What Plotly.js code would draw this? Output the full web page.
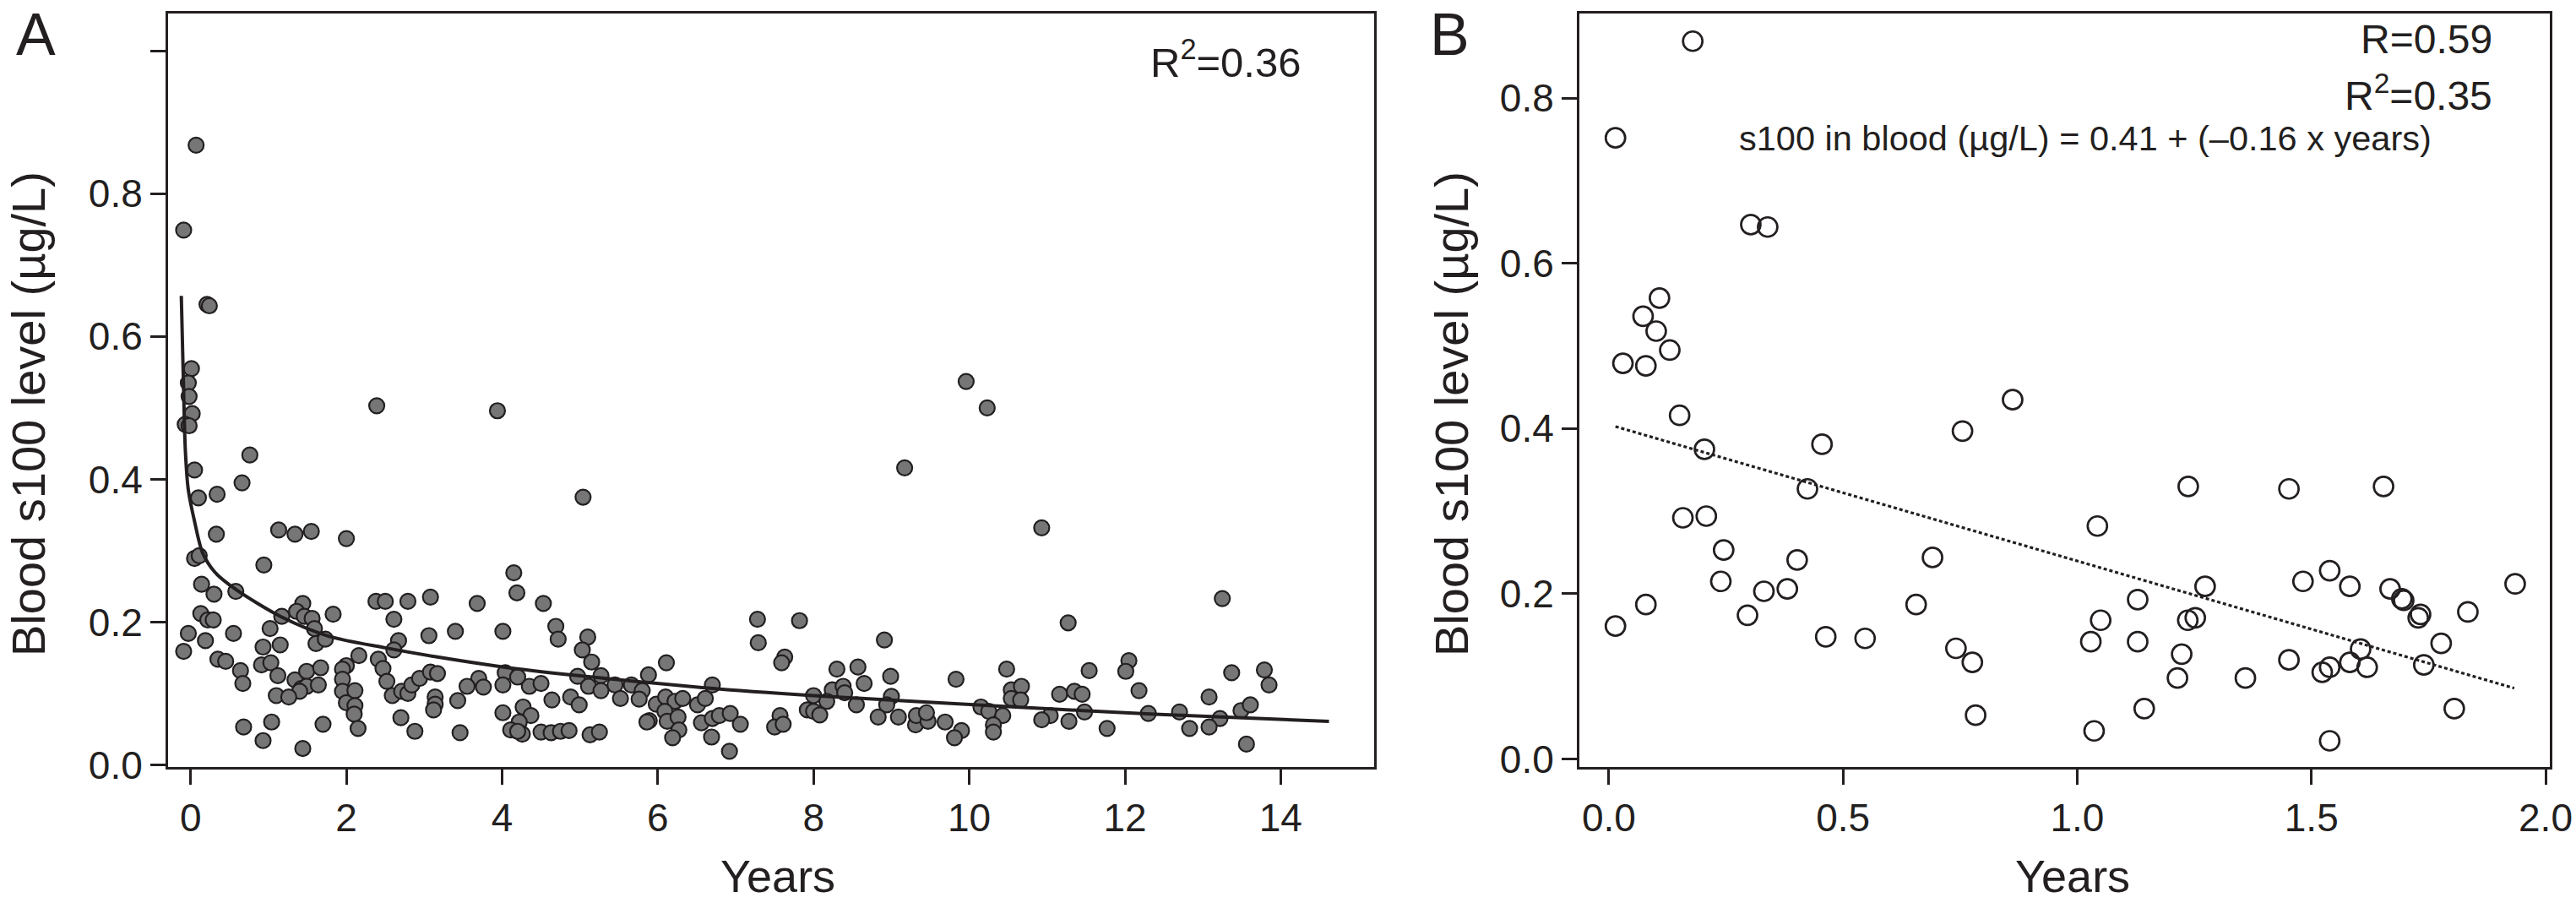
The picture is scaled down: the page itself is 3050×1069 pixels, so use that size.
<!DOCTYPE html>
<html>
<head>
<meta charset="utf-8">
<script src="https://cdn.plot.ly/plotly-3.0.1.min.js"></script>
<style>
  html, body { margin: 0; padding: 0; background: #fff; }
  #chart { width: 3050px; height: 1069px; }
</style>
</head>
<body>
<div id="chart"></div>
<script>
// panel A: all patients, s100 vs years since injury
const aYears = [
  0.07, -0.09, 0.21, 0.24, 0.01, -0.03, -0.02, 0.02, -0.07, -0.02, 2.39, 3.94, 0.05, 0.66, 0.76, 9.17, 9.96, 10.23, 5.04,
  0.10, 0.34, 0.33, 1.13, 1.34, 1.55, 2.00, 0.05, 0.11, 0.94, 0.14, 0.30, 0.58, 0.13, 0.22, 0.29, -0.03, 0.19, 0.55, -0.09,
  0.35, 0.45, 0.64, 0.67, 1.02, 1.17, 1.44, 1.36, 1.46, 1.56, 1.59, 1.83, 1.61, 1.73, 0.93, 1.15, 0.91, 1.03, 1.12, 1.34,
  1.49, 1.67, 1.42, 1.49, 1.64, 1.40, 1.10, 1.26, 0.68, 1.04, 0.93, 1.44, 1.70, 2.16, 2.00, 1.95, 1.95, 1.95, 2.00, 2.11,
  2.11, 2.10, 2.15, 2.38, 2.50, 2.79, 3.08, 2.61, 2.67, 2.61, 3.06, 2.41, 2.47, 2.52, 2.59, 2.71, 2.79, 2.84, 2.94, 3.08,
  3.17, 3.14, 3.14, 3.12, 2.70, 2.88,
  4.15, 4.19, 3.68, 4.53, 3.40, 4.01, 4.69, 4.72, 5.10, 5.03, 5.15, 6.11, 3.70, 3.76, 3.55, 4.04, 4.20, 4.01, 4.35, 4.50,
  3.43, 4.64, 4.88, 4.99, 4.97, 5.11, 5.27, 5.27, 5.45, 5.52, 5.66, 5.80, 5.76, 5.88, 4.01, 4.27, 4.37, 4.22, 4.11, 4.26,
  4.20, 3.46, 4.50, 4.63, 4.75, 4.86, 5.13, 5.25, 5.98, 6.10, 6.22, 6.32, 6.09, 6.12, 6.26, 6.27, 6.19, 5.89, 5.86, 6.51,
  6.61, 6.56,
  7.28, 7.82, 7.29, 8.91, 7.63, 7.59, 8.30, 8.57, 8.99, 9.83, 10.48, 6.70, 8.65, 8.24, 8.38, 8.40, 8.00, 8.17, 9.00, 8.55,
  7.92, 8.00, 8.08, 8.94, 8.83, 9.09, 9.31, 9.32, 9.47, 9.45, 9.69, 9.90, 9.81, 10.15, 10.25, 10.43, 10.31, 10.31, 10.54,
  10.54, 6.70, 6.79, 6.93, 7.06, 6.69, 6.92, 7.57, 7.50, 7.61,
  10.93, 13.25, 11.27, 12.05, 12.01, 11.54, 13.37, 13.79, 13.85, 12.18, 10.67, 10.66, 11.16, 11.35, 11.45, 11.48, 11.04,
  10.93, 11.28, 11.77, 12.30, 12.70, 12.83, 13.08, 13.22, 13.08, 13.49, 13.61, 13.56
];
const aLevels = [
  0.868, 0.749, 0.645, 0.643, 0.555, 0.535, 0.516, 0.492, 0.477, 0.475, 0.503, 0.496, 0.413, 0.395, 0.434, 0.416, 0.537, 0.500, 0.375,
  0.374, 0.379, 0.323, 0.329, 0.323, 0.327, 0.317, 0.289, 0.293, 0.280, 0.253, 0.239, 0.243, 0.212, 0.203, 0.203, 0.184, 0.174, 0.184, 0.159,
  0.148, 0.145, 0.132, 0.114, 0.191, 0.208, 0.226, 0.215, 0.208, 0.205, 0.191, 0.211, 0.170, 0.176, 0.165, 0.168, 0.140, 0.143, 0.125, 0.119,
  0.131, 0.136, 0.107, 0.110, 0.112, 0.103, 0.097, 0.095, 0.053, 0.060, 0.034, 0.023, 0.057, 0.153, 0.139, 0.134, 0.120, 0.103, 0.087, 0.104,
  0.083, 0.071, 0.051, 0.229, 0.229, 0.229, 0.235, 0.204, 0.174, 0.161, 0.181, 0.148, 0.135, 0.117, 0.097, 0.103, 0.100, 0.112, 0.121, 0.130,
  0.128, 0.095, 0.085, 0.077, 0.066, 0.047,
  0.269, 0.241, 0.226, 0.226, 0.187, 0.187, 0.194, 0.176, 0.179, 0.161, 0.144, 0.143, 0.121, 0.109, 0.110, 0.129, 0.123, 0.112, 0.110, 0.114,
  0.090, 0.091, 0.095, 0.084, 0.124, 0.110, 0.125, 0.104, 0.112, 0.093, 0.112, 0.104, 0.092, 0.126, 0.073, 0.081, 0.069, 0.060, 0.049, 0.043,
  0.047, 0.045, 0.046, 0.045, 0.047, 0.048, 0.042, 0.046, 0.085, 0.095, 0.089, 0.093, 0.075, 0.061, 0.067, 0.049, 0.038, 0.062, 0.060, 0.084,
  0.093, 0.059,
  0.204, 0.202, 0.171, 0.175, 0.151, 0.143, 0.134, 0.137, 0.124, 0.120, 0.134, 0.112, 0.114, 0.105, 0.110, 0.101, 0.097, 0.089, 0.096, 0.084,
  0.077, 0.075, 0.070, 0.084, 0.067, 0.067, 0.056, 0.069, 0.061, 0.073, 0.060, 0.048, 0.038, 0.081, 0.075, 0.069, 0.056, 0.046, 0.105,
  0.093, 0.065, 0.069, 0.072, 0.057, 0.039, 0.019, 0.069, 0.053, 0.057,
  0.332, 0.233, 0.199, 0.146, 0.131, 0.132, 0.129, 0.133, 0.112, 0.104, 0.110, 0.091, 0.099, 0.103, 0.099, 0.074, 0.069,
  0.063, 0.061, 0.051, 0.072, 0.074, 0.051, 0.095, 0.065, 0.053, 0.076, 0.084, 0.029
];

// fitted curve in panel A
const aCurveYears = [-0.12, -0.095, -0.068, -0.03, 0.05, 0.15, 0.31, 0.59, 1.17, 1.78, 2.5, 3.17, 4.02, 4.89, 6.6, 8.0, 10.6, 12.38, 14.62];
const aCurveLevels = [0.657, 0.545, 0.44, 0.385, 0.341, 0.298, 0.27, 0.245, 0.207, 0.18, 0.164, 0.151, 0.137, 0.126, 0.108, 0.097, 0.081, 0.071, 0.061];

// panel B: first two years
const bYears = [
  0.179, 0.014, 0.303, 0.339, 0.108, 0.073, 0.101, 0.130, 0.030, 0.079, 0.151, 0.862, 0.755, 0.455, 0.204, 0.424, 0.158,
  0.208, 0.245, 0.402, 0.691, 0.239, 0.331, 0.381, 0.079, 0.656, 0.014, 0.296, 0.463, 0.547, 0.741, 0.776, 0.783,
  1.237, 1.452, 1.654, 1.043, 1.539, 1.482, 1.582, 1.273, 1.935, 1.668, 1.693, 1.697, 1.129, 1.733, 1.728, 1.834, 1.050,
  1.252, 1.236, 1.029, 1.129, 1.777, 1.605, 1.223, 1.452, 1.582, 1.539, 1.619, 1.523, 1.740, 1.214, 1.359, 1.143, 1.805,
  1.036, 1.539
];
const bLevels = [
  0.869, 0.752, 0.647, 0.644, 0.558, 0.536, 0.518, 0.495, 0.479, 0.476, 0.416, 0.435, 0.397, 0.381, 0.375, 0.327, 0.292,
  0.294, 0.253, 0.241, 0.244, 0.215, 0.203, 0.206, 0.187, 0.187, 0.161, 0.174, 0.148, 0.146, 0.134, 0.117, 0.053,
  0.330, 0.327, 0.330, 0.282, 0.228, 0.215, 0.209, 0.209, 0.212, 0.206, 0.194, 0.192, 0.193, 0.175, 0.171, 0.178, 0.168,
  0.171, 0.168, 0.142, 0.142, 0.140, 0.133, 0.127, 0.120, 0.117, 0.111, 0.111, 0.105, 0.114, 0.098, 0.098, 0.061, 0.061,
  0.034, 0.022
];
const bTrendYears = [0.014, 1.933];
const bTrendLevels = [0.4025, 0.0857];

const aTickVals = [0, 2, 4, 6, 8, 10, 12, 14];
const aLevelTicks = [0, 0.2, 0.4, 0.6, 0.8];
const aLevelText = ['0.0', '0.2', '0.4', '0.6', '0.8'];
const aUnlabelledTicks = [1.0];
const bTickVals = [0, 0.5, 1, 1.5, 2];
const bTickText = ['0.0', '0.5', '1.0', '1.5', '2.0'];
const bLevelTicks = [0, 0.2, 0.4, 0.6, 0.8];
const bLevelText = ['0.0', '0.2', '0.4', '0.6', '0.8'];

const ink = '#231f20';
const font = 'Liberation Sans, Arial, Helvetica, sans-serif';
const W = 3050, H = 1069;
const px = (x) => x / W;
const py = (y) => 1 - y / H;

const traces = [
  {
    x: aYears, y: aLevels, xaxis: 'x', yaxis: 'y',
    type: 'scatter', mode: 'markers',
    marker: { size: 18, color: '#767676', line: { color: ink, width: 2.2 } },
    hoverinfo: 'skip'
  },
  {
    x: aCurveYears, y: aCurveLevels, xaxis: 'x', yaxis: 'y',
    type: 'scatter', mode: 'lines',
    line: { color: ink, width: 4, shape: 'spline', smoothing: 0.8 },
    hoverinfo: 'skip'
  },
  {
    x: bYears, y: bLevels, xaxis: 'x2', yaxis: 'y2',
    type: 'scatter', mode: 'markers',
    marker: { symbol: 'circle-open', size: 23, color: ink, line: { color: ink, width: 2.7 } },
    hoverinfo: 'skip'
  },
  {
    x: bTrendYears, y: bTrendLevels, xaxis: 'x2', yaxis: 'y2',
    type: 'scatter', mode: 'lines',
    line: { color: ink, width: 3.2, dash: '4px,3px' },
    hoverinfo: 'skip'
  }
];

const axisBase = {
  showgrid: false, zeroline: false,
  showline: true, linecolor: ink, linewidth: 3, mirror: true,
  ticks: 'outside', ticklen: 18, tickwidth: 3, tickcolor: ink,
  tickfont: { family: font, size: 46, color: ink },
  tickmode: 'array', fixedrange: true
};

const layout = {
  width: W, height: H,
  margin: { l: 0, r: 0, t: 0, b: 0 },
  paper_bgcolor: '#fff', plot_bgcolor: '#fff',
  showlegend: false,
  font: { family: font, color: ink },
  xaxis: Object.assign({}, axisBase, {
    domain: [px(199), px(1627)], range: [-0.29, 15.2],
    tickvals: aTickVals, anchor: 'y'
  }),
  yaxis: Object.assign({}, axisBase, {
    domain: [py(908), py(15.5)], range: [-0.003, 1.053],
    tickvals: aLevelTicks, ticktext: aLevelText, anchor: 'x',
    minor: {
      tickmode: 'array', tickvals: aUnlabelledTicks, ticks: 'outside',
      ticklen: 18, tickwidth: 3, tickcolor: ink, showgrid: false
    }
  }),
  xaxis2: Object.assign({}, axisBase, {
    domain: [px(1870), px(3019)], range: [-0.063, 2.009],
    tickvals: bTickVals, ticktext: bTickText, anchor: 'y2'
  }),
  yaxis2: Object.assign({}, axisBase, {
    domain: [py(908), py(15.5)], range: [-0.0097, 0.903],
    tickvals: bLevelTicks, ticktext: bLevelText, anchor: 'x2'
  }),
  annotations: [
    { text: 'A', x: px(42), y: py(0), size: 70, yanchor: 'top' },
    { text: 'B', x: px(1716), y: py(0), size: 70, yanchor: 'top' },
    { text: 'R<sup>2</sup>=0.36', x: px(1542), y: py(70), size: 49, xanchor: 'right' },
    { text: 'R=0.59', x: px(2953), y: py(46), size: 48, xanchor: 'right' },
    { text: 'R<sup>2</sup>=0.35', x: px(2953), y: py(110), size: 48, xanchor: 'right' },
    { text: 's100 in blood (µg/L) = 0.41 + (–0.16 x years)', x: px(2057), y: py(163), size: 41.5, xanchor: 'left' },
    { text: 'Blood s100 level (µg/L)', x: px(33), y: py(490), size: 56, textangle: -90 },
    { text: 'Blood s100 level (µg/L)', x: px(1718), y: py(490), size: 56, textangle: -90 },
    { text: 'Years', x: px(921), y: py(1037), size: 54 },
    { text: 'Years', x: px(2454), y: py(1037), size: 54 }
  ].map((a) => ({
    text: a.text, x: a.x, y: a.y, xref: 'paper', yref: 'paper',
    xanchor: a.xanchor || 'center', yanchor: a.yanchor || 'middle',
    textangle: a.textangle || 0, showarrow: false,
    font: { family: font, size: a.size, color: ink }
  }))
};

Plotly.newPlot('chart', traces, layout, { staticPlot: true, displayModeBar: false });
</script>
</body>
</html>
